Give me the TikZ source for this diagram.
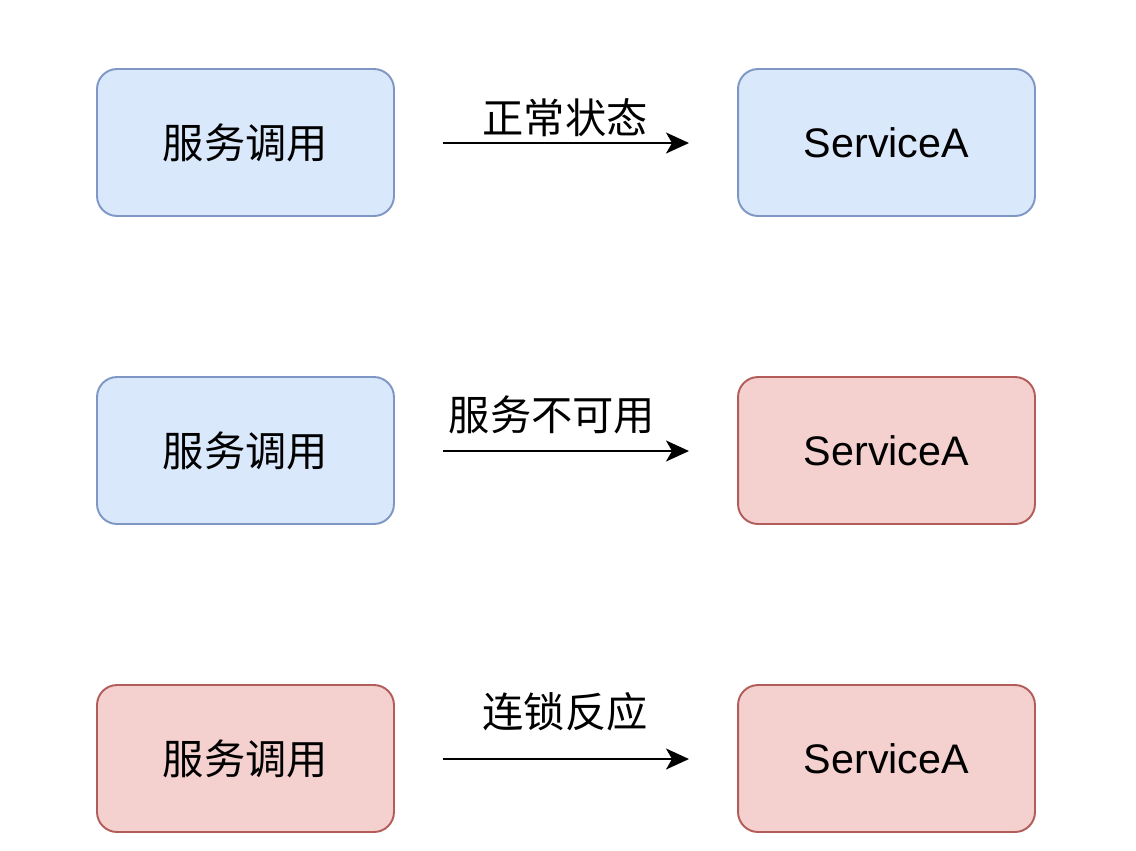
\documentclass[tikz,border=0pt]{standalone}
\usepackage{fontspec}
\setmainfont{Liberation Sans}
\newfontfamily\cjk{Noto Sans CJK SC}
\usepackage{tikz}
\usetikzlibrary{arrows.meta}
\definecolor{okfill}{HTML}{DAE8FC}
\definecolor{okdraw}{HTML}{7F97C4}
\definecolor{badfill}{HTML}{F4D0CF}
\definecolor{baddraw}{HTML}{B35D5A}
\tikzset{
  box/.style={draw, rounded corners=0.4cm, line width=1.1pt,
    minimum width=5.94cm, minimum height=2.94cm,
    font=\fontsize{23.5}{28}\selectfont},
  okbox/.style={box, fill=okfill, draw=okdraw},
  badbox/.style={box, fill=badfill, draw=baddraw},
  flow/.style={-{Stealth[length=0.46cm, width=0.42cm, inset=0.12cm]}, line width=1.1pt},
  tag/.style={font=\cjk\fontsize{23.5}{28}\selectfont}
}

\begin{document}
\begin{tikzpicture}[x=0.02cm, y=-0.02cm]
    \useasboundingbox (0,0) rectangle (1136,850);

    % Row 1: normal state
    \node[okbox] (call1) at (245.5,142.5) {\cjk 服务调用};
    \node[okbox] (svc1) at (886.5,142.5) {ServiceA};
    \coordinate (from1) at (443,143);
    \coordinate (to1) at (689,143);
    \draw[flow] (from1) -- (to1);
    \node[tag] (lab1) at (565,118) {正常状态};

    % Row 2: service unavailable
    \node[okbox] (call2) at (245.5,450.5) {\cjk 服务调用};
    \node[badbox] (svc2) at (886.5,450.5) {ServiceA};
    \coordinate (from2) at (443,451);
    \coordinate (to2) at (689,451);
    \draw[flow] (from2) -- (to2);
    \node[tag] (lab2) at (552,415) {服务不可用};

    % Row 3: chain reaction
    \node[badbox] (call3) at (245.5,758.5) {\cjk 服务调用};
    \node[badbox] (svc3) at (886.5,758.5) {ServiceA};
    \coordinate (from3) at (443,759);
    \coordinate (to3) at (689,759);
    \draw[flow] (from3) -- (to3);
    \node[tag] (lab3) at (565,712) {连锁反应};

  \end{tikzpicture}
\end{document}
